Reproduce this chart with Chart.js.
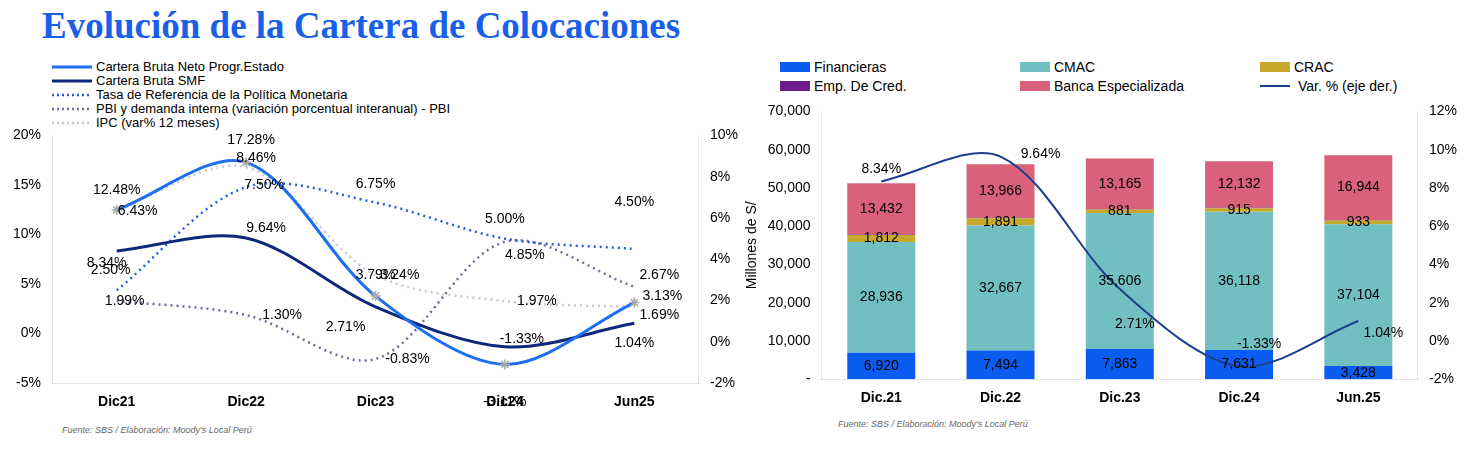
<!DOCTYPE html>
<html><head><meta charset="utf-8">
<script src="https://cdn.jsdelivr.net/npm/chart.js@4/dist/chart.umd.min.js"></script>
<style>
body{margin:0;width:1482px;height:449px;background:#fff;font-family:Arial,"Liberation Sans",sans-serif;position:relative;overflow:hidden}
#title{position:absolute;left:42px;top:4px;font-family:"Liberation Serif","Times New Roman",serif;font-weight:bold;font-size:37px;color:#1a5fe8}
.lg{position:absolute;font-size:13px;color:#000}
.lg div{height:14px;line-height:14px;display:flex;align-items:center}
.lg svg{margin-right:4px}
#lg2{display:grid;grid-template-columns:240px 240px 160px;row-gap:2px;left:780px;top:58px;font-size:14px}
#lg2 div{height:17px}
.sw{display:inline-block;width:30px;height:10px;margin-right:4px}
.foot{position:absolute;font-size:9px;font-style:italic;color:#666}
#c1{position:absolute;left:0;top:124px}
#c2{position:absolute;left:740px;top:100px}
</style></head><body>
<div id="title">Evolución de la Cartera de Colocaciones</div>
<div class="lg" id="lg1" style="left:52px;top:60px"></div>
<div class="lg" id="lg2"></div>
<canvas id="c1" width="745" height="290" style="width:745px;height:290px"></canvas>
<canvas id="c2" width="720" height="310" style="width:720px;height:310px"></canvas>
<div class="foot" style="left:62px;top:425px">Fuente: SBS /  Elaboración: Moody's Local Perú</div>
<div class="foot" style="left:838px;top:419px">Fuente: SBS /  Elaboración: Moody's Local Perú</div>
<script>
const catsL=["Dic21","Dic22","Dic23","Dic24","Jun25"];
const carteraNeto=[12.48,17.28,3.79,-3.11,3.13];
const carteraSMF=[8.34,9.64,2.71,-1.33,1.04];
const tasaRef=[2.50,7.50,6.75,5.00,4.50];
const pbi=[1.99,1.30,-0.83,4.85,2.67];
const ipc=[6.43,8.46,3.24,1.97,1.69];

const catsR=["Dic.21","Dic.22","Dic.23","Dic.24","Jun.25"];
const financieras=[6920,7494,7863,7631,3428];
const cmac=[28936,32667,35606,36118,37104];
const crac=[1812,1891,881,915,933];
const empCred=[150,150,150,150,150];
const banca=[13432,13966,13165,12132,16944];
const varPct=[8.34,9.64,2.71,-1.33,1.04];

const F="Arial, 'Liberation Sans', sans-serif";
const labelPlugin={id:'lbl',afterDatasetsDraw(ch){
  const ctx=ch.ctx;ctx.save();ctx.font="14px "+F;ctx.fillStyle="#000";ctx.textAlign="center";ctx.textBaseline="middle";
  ch.data.datasets.forEach((ds,i)=>{
    if(!ds.showLbl)return;const m=ch.getDatasetMeta(i);
    m.data.forEach((p,j)=>{
      let x=p.x,y=p.y;
      if(!ds.off){y=(p.y+p.base)/2;}
      else{x+=ds.off[j][0];y+=ds.off[j][1];}
      const v=ds.data[j];
      ctx.fillText(ds.pct?v.toFixed(2)+"%":v.toLocaleString('en-US'),x,y);
    });
  });ctx.restore();}};

const lg1=[["Cartera Bruta Neto Progr.Estado","#1e6ff0",3,""],["Cartera Bruta SMF","#0d2a7a",3,""],["Tasa de Referencia de la Política Monetaria","#1f5fe0",2.5,"2,3"],["PBI y demanda interna (variación porcentual interanual) - PBI","#6e6a9a",2.5,"2,3"],["IPC (var% 12 meses)","#c8c8d8",2.5,"2,3"]];
document.getElementById('lg1').innerHTML=lg1.map(l=>`<div><svg width="40" height="6"><line x1="0" y1="3" x2="40" y2="3" stroke="${l[1]}" stroke-width="${l[2]}" stroke-dasharray="${l[3]}"/></svg>${l[0]}</div>`).join('');
const lg2=[["Financieras","#0b5cf0"],["CMAC","#72bfc1"],["CRAC","#c9a92b"],["Emp. De Cred.","#6b1c8c"],["Banca Especializada","#d9627a"],["Var. % (eje der.)","#1d3f8f","line"]];
document.getElementById('lg2').innerHTML=lg2.map(l=>`<div>${l[2]?`<svg width="34" height="6" style="margin-right:4px"><line x1="0" y1="3" x2="30" y2="3" stroke="${l[1]}" stroke-width="2"/></svg>`:`<span class="sw" style="background:${l[1]}"></span>`}${l[0]}</div>`).join('');

const tickFont={family:F,size:14};
new Chart(document.getElementById('c1'),{type:'line',
 data:{labels:catsL,datasets:[
  {data:carteraNeto,borderColor:"#1e6ff0",borderWidth:3,yAxisID:'y',pointStyle:'star',pointRadius:5,pointBorderColor:'#aaa',pointBorderWidth:1.5,showLbl:1,pct:1,off:[[0,-20],[5,-22],[0,-21],[0,38],[28,-6]]},
  {data:carteraSMF,borderColor:"#0d2a7a",borderWidth:3,yAxisID:'y',pointRadius:0,showLbl:1,pct:1,off:[[-10,12],[20,-10],[-30,20],[17,-8],[0,20]]},
  {data:tasaRef,borderColor:"#1f5fe0",borderWidth:2.5,borderDash:[2,4],yAxisID:'y1',pointRadius:0,showLbl:1,pct:1,off:[[-6,-20],[18,-2],[0,-18],[0,-20],[0,-47]]},
  {data:pbi,borderColor:"#6e6a9a",borderWidth:2.5,borderDash:[2,4],yAxisID:'y1',pointRadius:0,showLbl:1,pct:1,off:[[8,0],[36,0],[32,0],[20,13],[25,-12]]},
  {data:ipc,borderColor:"#c8c8d8",borderWidth:2.5,borderDash:[2,4],yAxisID:'y1',pointRadius:0,showLbl:1,pct:1,off:[[21,2],[10,-9],[24,0],[32,0],[25,8]]}
 ].map(d=>Object.assign({tension:0.32,fill:false},d))},
 options:{responsive:false,animation:false,layout:{padding:{left:10,right:4,top:4}},
  plugins:{legend:{display:false},tooltip:{enabled:false}},
  scales:{x:{offset:true,grid:{display:false},ticks:{font:{family:F,size:14,weight:'bold'},color:'#000'}},
   y:{min:-5,max:20,ticks:{stepSize:5,callback:v=>v+"%",font:tickFont,color:'#000'},grid:{display:false}},
   y1:{position:'right',min:-2,max:10,ticks:{stepSize:2,callback:v=>v+"%",font:tickFont,color:'#000'},grid:{display:false}}}},
 plugins:[labelPlugin]});

new Chart(document.getElementById('c2'),{type:'bar',
 data:{labels:catsR,datasets:[
  {type:'line',data:varPct,borderColor:"#1d3f8f",borderWidth:2,yAxisID:'y1',pointRadius:0,tension:0.32,showLbl:1,pct:1,off:[[0,-12],[40,-2],[15,35],[20,-22],[25,12]],order:0},
  {data:financieras,backgroundColor:"#0b5cf0",showLbl:1,order:1},
  {data:cmac,backgroundColor:"#72bfc1",showLbl:1,order:1},
  {data:crac,backgroundColor:"#c9a92b",showLbl:1,order:1},
  {data:empCred,backgroundColor:"#6b1c8c",order:1},
  {data:banca,backgroundColor:"#d9627a",showLbl:1,order:1}
 ]},
 options:{responsive:false,animation:false,layout:{padding:{right:0,top:6}},
  datasets:{bar:{categoryPercentage:0.95,barPercentage:0.6}},
  plugins:{legend:{display:false},tooltip:{enabled:false}},
  scales:{x:{stacked:true,grid:{display:false},ticks:{font:{family:F,size:14,weight:'bold'},color:'#000'}},
   y:{stacked:true,min:0,max:70000,ticks:{stepSize:10000,callback:v=>v===0?"-":v.toLocaleString('en-US'),font:tickFont,color:'#000'},grid:{display:false},title:{display:true,text:"Millones de S/",font:tickFont,color:'#000'}},
   y1:{position:'right',min:-2,max:12,ticks:{stepSize:2,callback:v=>v+"%",font:tickFont,color:'#000'},grid:{display:false}}}},
 plugins:[labelPlugin]});
</script></body></html>
